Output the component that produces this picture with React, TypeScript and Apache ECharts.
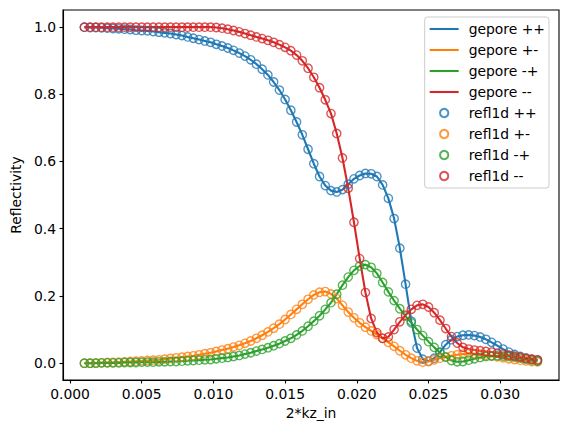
import React, { useEffect, useRef } from "react";
import * as echarts from "echarts";

// x values (2*kz_in)
const kz2 = [
  0.0010, 0.0014, 0.0018, 0.0022, 0.0026, 0.0030, 0.0034, 0.0038, 0.0042, 0.0046,
  0.0050, 0.0054, 0.0058, 0.0062, 0.0066, 0.0070, 0.0074, 0.0078, 0.0082, 0.0086,
  0.0090, 0.0094, 0.0098, 0.0102, 0.0106, 0.0110, 0.0114, 0.0118, 0.0122, 0.0126,
  0.0130, 0.0134, 0.0138, 0.0142, 0.0146, 0.0150, 0.0154, 0.0158, 0.0162, 0.0166,
  0.0170, 0.0174, 0.0178, 0.0182, 0.0186, 0.0190, 0.0194, 0.0198, 0.0202, 0.0206,
  0.0210, 0.0214, 0.0218, 0.0222, 0.0226, 0.0230, 0.0234, 0.0238, 0.0242, 0.0246,
  0.0250, 0.0254, 0.0258, 0.0262, 0.0266, 0.0270, 0.0274, 0.0278, 0.0282, 0.0286,
  0.0290, 0.0294, 0.0298, 0.0302, 0.0306, 0.0310, 0.0314, 0.0318, 0.0322, 0.0326,
];

const geporePP = [
  0.999, 0.998, 0.998, 0.997, 0.996, 0.995, 0.994, 0.993, 0.992, 0.990,
  0.989, 0.988, 0.986, 0.984, 0.982, 0.980, 0.977, 0.974, 0.970, 0.966,
  0.962, 0.958, 0.954, 0.948, 0.943, 0.937, 0.930, 0.922, 0.913, 0.902,
  0.889, 0.874, 0.857, 0.836, 0.812, 0.784, 0.752, 0.717, 0.679, 0.636,
  0.593, 0.555, 0.528, 0.513, 0.509, 0.516, 0.532, 0.548, 0.558, 0.564,
  0.563, 0.555, 0.530, 0.490, 0.430, 0.342, 0.235, 0.125, 0.045, 0.012,
  0.006, 0.015, 0.033, 0.055, 0.070, 0.079, 0.083, 0.084, 0.082, 0.078,
  0.071, 0.062, 0.052, 0.042, 0.033, 0.026, 0.020, 0.015, 0.012, 0.009,
];

const geporePM = [
  0.000, 0.000, 0.001, 0.001, 0.002, 0.002, 0.003, 0.004, 0.005, 0.006,
  0.007, 0.008, 0.009, 0.010, 0.012, 0.014, 0.016, 0.018, 0.020, 0.022,
  0.025, 0.028, 0.031, 0.035, 0.039, 0.043, 0.048, 0.053, 0.059, 0.066,
  0.074, 0.083, 0.093, 0.104, 0.116, 0.130, 0.145, 0.160, 0.175, 0.190,
  0.203, 0.211, 0.213, 0.206, 0.192, 0.172, 0.152, 0.135, 0.120, 0.107,
  0.096, 0.085, 0.074, 0.062, 0.050, 0.037, 0.025, 0.015, 0.007, 0.003,
  0.005, 0.010, 0.015, 0.019, 0.022, 0.025, 0.027, 0.028, 0.028, 0.026,
  0.024, 0.022, 0.019, 0.016, 0.013, 0.011, 0.009, 0.007, 0.005, 0.004,
];

const geporeMP = [
  0.000, 0.000, 0.000, 0.001, 0.001, 0.001, 0.001, 0.002, 0.002, 0.002,
  0.003, 0.003, 0.003, 0.004, 0.004, 0.005, 0.005, 0.006, 0.007, 0.008,
  0.009, 0.010, 0.011, 0.013, 0.015, 0.017, 0.020, 0.023, 0.027, 0.031,
  0.036, 0.041, 0.046, 0.052, 0.058, 0.066, 0.074, 0.084, 0.096, 0.110,
  0.125, 0.141, 0.160, 0.180, 0.205, 0.232, 0.256, 0.276, 0.289, 0.293,
  0.285, 0.267, 0.240, 0.212, 0.186, 0.162, 0.140, 0.120, 0.100, 0.082,
  0.064, 0.047, 0.031, 0.018, 0.008, 0.004, 0.005, 0.009, 0.013, 0.017,
  0.020, 0.021, 0.022, 0.021, 0.020, 0.018, 0.015, 0.012, 0.009, 0.006,
];

const geporeMM = [
  0.999, 0.999, 0.999, 0.999, 0.999, 0.999, 0.999, 0.999, 0.999, 0.999,
  0.999, 0.999, 0.999, 0.999, 0.999, 0.999, 0.999, 0.999, 0.999, 0.999,
  0.999, 0.999, 0.999, 0.998, 0.996, 0.993, 0.989, 0.985, 0.980, 0.975,
  0.970, 0.965, 0.960, 0.954, 0.947, 0.939, 0.929, 0.916, 0.899, 0.877,
  0.850, 0.819, 0.783, 0.742, 0.683, 0.610, 0.520, 0.419, 0.311, 0.210,
  0.133, 0.091, 0.074, 0.078, 0.100, 0.123, 0.143, 0.160, 0.172, 0.175,
  0.167, 0.150, 0.128, 0.103, 0.079, 0.060, 0.047, 0.042, 0.039, 0.037,
  0.035, 0.033, 0.030, 0.027, 0.024, 0.021, 0.018, 0.015, 0.012, 0.010,
];

// refl1d results coincide with gepore values
const refl1dPP = geporePP;
const refl1dPM = geporePM;
const refl1dMP = geporeMP;
const refl1dMM = geporeMM;

const lineNames = ["gepore ++", "gepore +-", "gepore -+", "gepore --"];
const markerNames = ["refl1d ++", "refl1d +-", "refl1d -+", "refl1d --"];
const colors = ["#1f77b4", "#ff7f0e", "#2ca02c", "#d62728"];
const xTicks = [0, 0.005, 0.01, 0.015, 0.02, 0.025, 0.03];
const yTicks = [0, 0.2, 0.4, 0.6, 0.8, 1.0];

const FONT = "DejaVu Sans";
const FS = 13.9;

export default function App() {
  const ref = useRef<HTMLDivElement>(null);

  useEffect(() => {
    if (!ref.current) return;
    const chart = echarts.init(ref.current, null, { renderer: "svg" });
    const lineData = [geporePP, geporePM, geporeMP, geporeMM];
    const markerData = [refl1dPP, refl1dPM, refl1dMP, refl1dMM];
    const pairs = (ys: number[]) => ys.map((y, i) => [kz2[i], y]);

    const series: any[] = [];
    lineData.forEach((ys, k) => {
      series.push({
        name: lineNames[k],
        type: "line",
        data: pairs(ys),
        symbol: "none",
        showSymbol: false,
        color: colors[k],
        lineStyle: { color: colors[k], width: 2.08 },
        z: 2,
      });
    });
    markerData.forEach((ys, k) => {
      series.push({
        name: markerNames[k],
        type: "scatter",
        data: pairs(ys),
        symbol: "circle",
        symbolSize: 8.3,
        color: colors[k],
        itemStyle: { color: "rgba(0,0,0,0)", borderColor: colors[k], borderWidth: 1.39 },
        z: 3,
      });
    });

    const axisCommon = {
      splitLine: { show: false },
      axisLine: { show: true, onZero: false, lineStyle: { color: "#000", width: 1.1 } },
    };

    chart.setOption({
      animation: false,
      backgroundColor: "#fff",
      textStyle: { fontFamily: FONT },
      grid: {
        left: 63,
        right: 8,
        top: 10,
        bottom: 53,
        show: true,
        borderColor: "#000",
        borderWidth: 1.1,
        backgroundColor: "transparent",
      },
      legend: {
        orient: "vertical",
        right: 18,
        top: 17,
        data: [
          ...lineNames.map((n) => ({ name: n, icon: "path://M0,0H29V2.08H0Z" })),
          ...markerNames.map((n) => ({ name: n })),
        ],
        itemWidth: 29,
        itemHeight: 8.3,
        itemGap: 5,
        padding: [4, 4, 4, 5],
        backgroundColor: "rgba(255,255,255,0.8)",
        borderColor: "#cccccc",
        borderWidth: 1,
        borderRadius: 3,
        textStyle: {
          fontFamily: FONT,
          fontSize: FS,
          color: "#000",
          lineHeight: 16,
          padding: [0, 0, 0, 5],
        },
      },
      xAxis: {
        type: "value",
        min: -0.00049,
        max: 0.0341,
        name: "2*kz_in",
        nameLocation: "middle",
        nameGap: 25,
        nameTextStyle: { fontFamily: FONT, fontSize: FS, color: "#000" },
        ...axisCommon,
        axisTick: {
          show: true,
          length: 3.5,
          lineStyle: { color: "#000", width: 1.1 },
          customValues: xTicks,
        },
        axisLabel: {
          margin: 7,
          fontFamily: FONT,
          fontSize: FS,
          color: "#000",
          customValues: xTicks,
          formatter: (v: number) => v.toFixed(3),
        },
      },
      yAxis: {
        type: "value",
        min: -0.05,
        max: 1.05,
        name: "Reflectivity",
        nameLocation: "middle",
        nameRotate: 90,
        nameGap: 38,
        nameTextStyle: { fontFamily: FONT, fontSize: FS, color: "#000" },
        ...axisCommon,
        axisTick: {
          show: true,
          length: 3.5,
          lineStyle: { color: "#000", width: 1.1 },
          customValues: yTicks,
        },
        axisLabel: {
          margin: 7,
          fontFamily: FONT,
          fontSize: FS,
          color: "#000",
          customValues: yTicks,
          formatter: (v: number) => v.toFixed(1),
        },
      },
      series,
    });

    return () => chart.dispose();
  }, []);

  return (
    <div
      ref={ref}
      style={{ position: "fixed", left: 0, top: 0, width: 567, height: 433, background: "#fff" }}
    />
  );
}
